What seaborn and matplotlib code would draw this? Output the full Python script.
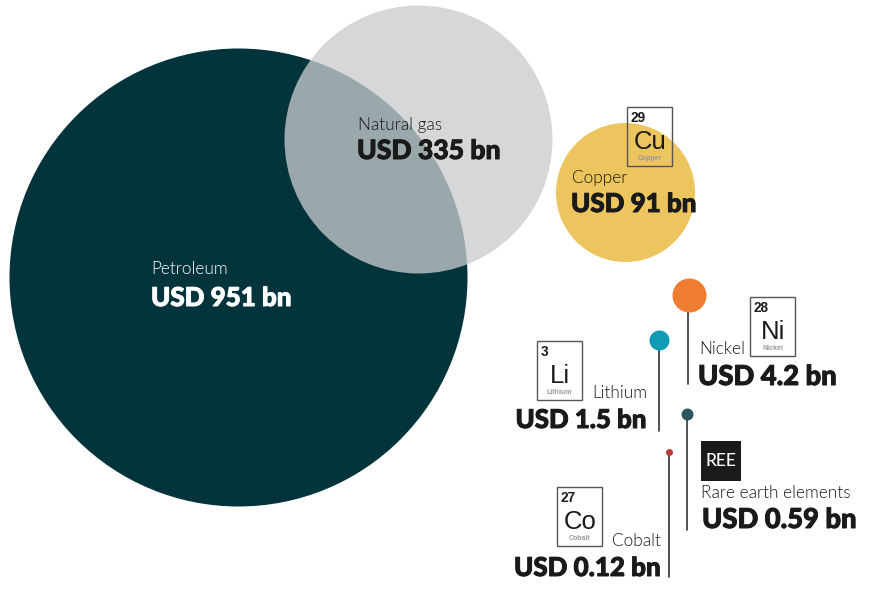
import pandas as pd
import numpy as np
import seaborn as sns
import matplotlib.pyplot as plt
import matplotlib.patheffects as pe
from matplotlib import font_manager as fm
from matplotlib.patches import Rectangle

# USD bn
names = ["Petroleum", "Natural gas", "Copper", "Nickel", "Lithium", "Rare earth elements", "Cobalt"]
values = [951, 335, 91, 4.2, 1.5, 0.59, 0.12]
value_labels = ["USD 951 bn", "USD 335 bn", "USD 91 bn", "USD 4.2 bn", "USD 1.5 bn", "USD 0.59 bn", "USD 0.12 bn"]
elements = [(29, "Cu", "Copper"), (28, "Ni", "Nickel"), (3, "Li", "Lithium"), (27, "Co", "Cobalt")]

# layout in pixels
centre_x = [238, 418, 625.5, 689.3, 659.3, 687, 669.3]
centre_y = [276.5, 139, 191.5, 294.7, 340, 414.3, 452.3]
radius = [229, 134, 69.5, 17, 10, 6, 3.5]
colors = ["#03343c", "#c9cbce", "#edc55f", "#ee7d31", "#0e9bb3", "#2b545c", "#b8393c"]
alphas = [1, 0.77, 1, 1, 1, 1, 1]
value_sizes = [18.7, 19.1, 18.7, 19.7, 18.6, 19.7, 18.7]

stems = {"Nickel": (687.7, 384), "Lithium": (659.3, 431), "Rare earth elements": (687, 530), "Cobalt": (669.3, 577)}

# name x, name baseline, value x, value baseline, align, text colour
label_pos = {
    "Petroleum": (151, 274, 151, 306, "left", "white"),
    "Natural gas": (358, 130, 357, 159, "left", "#1a1a1a"),
    "Copper": (572, 183, 571, 212, "left", "#1a1a1a"),
    "Nickel": (699, 354, 698, 385, "left", "#1a1a1a"),
    "Lithium": (647, 398, 647, 428, "right", "#1a1a1a"),
    "Rare earth elements": (701, 498, 702, 528, "left", "#1a1a1a"),
    "Cobalt": (661, 546, 661, 576, "right", "#1a1a1a"),
}
box_pos = {"Cu": (627, 107), "Ni": (750, 297), "Li": (537, 341), "Co": (557, 487)}

df = pd.DataFrame({"name": names, "value": values, "x": centre_x, "y": centre_y, "r": radius})

sns.set_theme(style="white")
fig = plt.figure(figsize=(8.7, 6.07), dpi=100)
ax = fig.add_axes([0, 0, 1, 1])
ax.set_xlim(0, 870)
ax.set_ylim(607, 0)
ax.axis("off")


def lato(suffix, size):
    path = [f.fname for f in fm.fontManager.ttflist if f.fname.endswith("Lato-" + suffix + ".ttf")][0]
    return fm.FontProperties(fname=path, size=size)


for i, row in df.iterrows():
    # diameter px -> points
    s = (2 * row["r"] * 0.72) ** 2
    sns.scatterplot(data=df.iloc[[i]], x="x", y="y", s=s, color=colors[i], alpha=alphas[i],
                    linewidth=0, ax=ax, legend=False, zorder=2 + i * 0.01)
    if row["name"] in stems:
        sx, end = stems[row["name"]]
        ax.plot([sx, sx], [row["y"], end], color="#333333", lw=1.2, zorder=2)

for name, label, vsize in zip(names, value_labels, value_sizes):
    nx, ny, vx, vy, ha, c = label_pos[name]
    ax.text(nx, ny, name, fontproperties=lato("Light", 12.4), color=c, ha=ha, va="baseline", zorder=5)
    ax.text(vx, vy, label, fontproperties=lato("Black", vsize), color=c, ha=ha, va="baseline", zorder=5,
            path_effects=[pe.withStroke(linewidth=0.7, foreground=c)])

# periodic table boxes
for num, sym, el in elements:
    bx, by = box_pos[sym]
    ax.add_patch(Rectangle((bx, by), 45.5, 58.5, facecolor="none", edgecolor="#555555", lw=1, zorder=4))
    ax.text(bx + 3.7, by + 14.5, str(num), family="Liberation Sans", fontweight="bold", fontsize=9.8,
            color="#1a1a1a", va="baseline", zorder=5)
    ax.text(bx + 22.7, by + 42, sym, family="Liberation Sans", fontsize=18.5, color="#1a1a1a",
            ha="center", va="baseline", zorder=5)
    ax.text(bx + 22.7, by + 53, el, family="Liberation Sans", fontweight="bold", fontsize=5,
            color="#999999", ha="center", va="baseline", zorder=5)

ax.add_patch(Rectangle((701, 441), 40, 40, facecolor="#1a1a1a", edgecolor="none", zorder=4))
ax.text(721, 466.5, "REE", family="Lato", fontweight=500, fontsize=12.5, color="white", ha="center", va="baseline", zorder=5)

plt.savefig("out.png", dpi=100)
